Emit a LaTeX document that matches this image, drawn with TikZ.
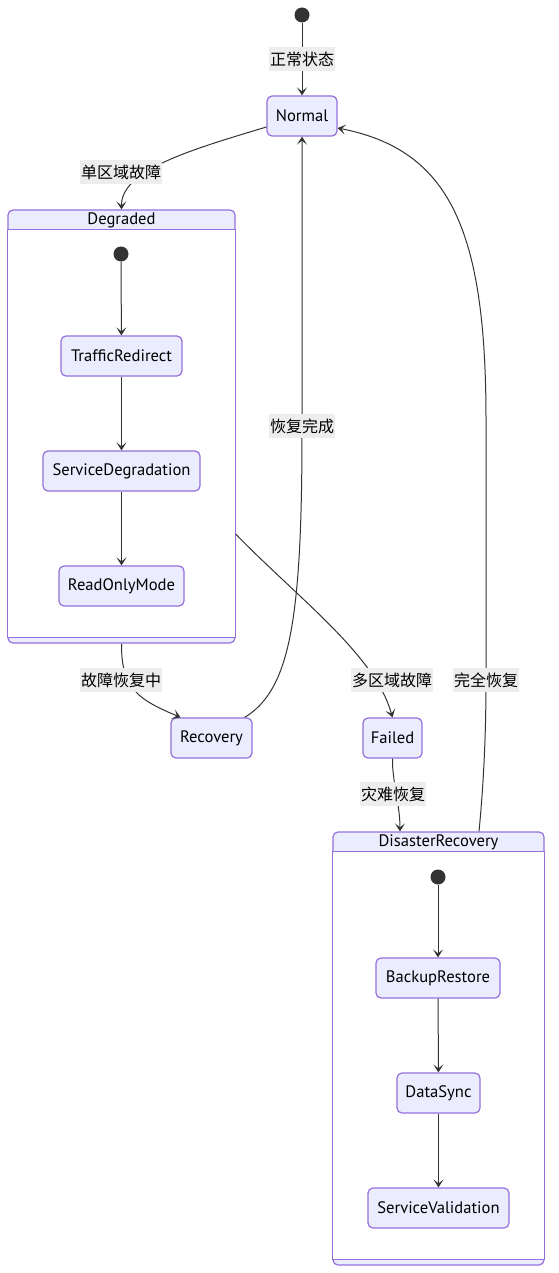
\documentclass[tikz,border=0pt]{standalone}
\usepackage{fontspec}
\setmainfont{PT Sans}
\newfontfamily\cjk{Noto Sans CJK SC}
\usetikzlibrary{arrows.meta}

\definecolor{stfill}{HTML}{ECECFF}
\definecolor{stline}{HTML}{9370DB}
\definecolor{edgecol}{HTML}{333333}
\definecolor{lblbg}{HTML}{EDEDED}

\tikzset{
  state/.style={draw=stline, fill=stfill, line width=1.2pt, rounded corners=5pt,
    minimum height=40pt, inner xsep=0pt, font=\fontsize{16.6}{19}\selectfont},
  startdot/.style={circle, fill=edgecol, minimum size=15pt, inner sep=0pt},
  tr/.style={draw=edgecol, line width=1pt, -{Stealth[length=8pt,width=10pt,inset=4pt]}},
  lbl/.style={fill=lblbg, inner xsep=1pt, inner ysep=0pt, minimum height=24pt,
    font=\cjk\fontsize{16}{19}\selectfont},
  cluster/.style={draw=stline, fill=stfill, line width=1.2pt, rounded corners=5pt},
  clustertitle/.style={font=\fontsize{16.6}{19}\selectfont, inner sep=0pt},
}

\begin{document}
\begin{tikzpicture}[x=1pt,y=-1pt]
        \useasboundingbox (0,0) rectangle (558,1273);
        %顶层状态
        \node[startdot] (start) at (302,15) {};
        \node[state, minimum width=70pt] (Normal) at (302,116) {Normal};
        \node[state, minimum width=81pt] (Recovery) at (211.5,738) {Recovery};
        \node[state, minimum width=59pt] (Failed) at (392.5,738) {Failed};
        %复合状态 Degraded
        \node[cluster, minimum width=227pt, minimum height=433pt] (Degraded) at (121.5,426.5) {};
        \draw[draw=stline, fill=white, line width=1.2pt] ([yshift=-20pt]Degraded.north west) rectangle ([yshift=6pt]Degraded.south east);
        \node[clustertitle] (Degradedtitle) at ([yshift=-11pt]Degraded.north) {Degraded};
        \node[startdot] (dstart) at (121,254) {};
        \node[state, minimum width=121pt] (TrafficRedirect) at (121.5,356) {TrafficRedirect};
        \node[state, minimum width=157pt] (ServiceDegradation) at (121.5,471) {ServiceDegradation};
        \node[state, minimum width=125pt] (ReadOnlyMode) at (121.5,586) {ReadOnlyMode};
        %复合状态 DisasterRecovery
        \node[cluster, minimum width=211pt, minimum height=433pt] (DisasterRecovery) at (438.5,1048.5) {};
        \draw[draw=stline, fill=white, line width=1.2pt] ([yshift=-20pt]DisasterRecovery.north west) rectangle ([yshift=6pt]DisasterRecovery.south east);
        \node[clustertitle] (DRtitle) at ([yshift=-11pt]DisasterRecovery.north) {DisasterRecovery};
        \node[startdot] (rstart) at (438,877) {};
        \node[state, minimum width=124pt] (BackupRestore) at (438,978) {BackupRestore};
        \node[state, minimum width=83pt] (DataSync) at (438.5,1093) {DataSync};
        \node[state, minimum width=141pt] (ServiceValidation) at (438.5,1208) {ServiceValidation};
        %内部转移
        \draw[tr] (dstart) -- (TrafficRedirect);
        \draw[tr] (TrafficRedirect) -- (ServiceDegradation);
        \draw[tr] (ServiceDegradation) -- (ReadOnlyMode);
        \draw[tr] (rstart) -- (BackupRestore);
        \draw[tr] (BackupRestore) -- (DataSync);
        \draw[tr] (DataSync) -- (ServiceValidation);
        %顶层转移
        \draw[tr] (start) -- node[lbl] {正常状态} (Normal);
        \draw[tr] ([yshift=-11pt]Normal.west) .. controls (190,150) and (121,170) .. (Degraded.north)
            node[lbl, at={(121,172)}] {单区域故障};
        \draw[tr] (Degraded.south) .. controls (121,690) and (140,700) .. ([xshift=-31pt]Recovery.north)
            node[lbl, at={(121,680)}] {故障恢复中};
        \draw[tr] ([xshift=-8pt]Recovery.north east) .. controls (290,690) and (302,620) .. (302,430) -- (Normal.south)
            node[lbl, at={(302,426)}] {恢复完成};
        \draw[tr] ([yshift=-107.5pt]Degraded.east) .. controls (300,600) and (375,655) .. (Failed.north)
            node[lbl, at={(392,680)}] {多区域故障};
        \draw[tr] (Failed.south) .. controls (392,780) and (400,805) .. ([xshift=-38.5pt]DisasterRecovery.north)
            node[lbl, at={(393,794)}] {灾难恢复};
        \draw[tr] ([xshift=40.5pt]DisasterRecovery.north) .. controls (484,780) and (486,730) .. (486,680) -- (486,420)
            .. controls (486,230) and (450,150) .. ([yshift=-12pt]Normal.east)
            node[lbl, at={(486,680)}] {完全恢复};
\end{tikzpicture}
\end{document}
